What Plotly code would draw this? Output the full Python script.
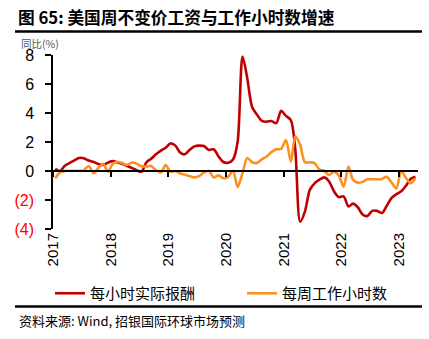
import pandas as pd
import plotly.graph_objects as go

# Monthly series, Jan 2017 - Apr 2023 (YoY, %), plotted at mid-month
months = pd.date_range("2017-01-01", periods=76, freq="MS") + pd.Timedelta(days=14)

real_hourly_comp = [
    0.15, 0.00, 0.35, 0.55, 0.72, 0.90, 0.88, 0.72, 0.62, 0.48, 0.42, 0.58,
    0.68, 0.58, 0.50, 0.35, 0.22, 0.05, -0.05, 0.60, 0.85, 1.15, 1.40, 1.60,
    1.90, 1.75, 1.30, 1.15, 1.45, 1.70, 1.75, 1.72, 1.45, 1.50, 1.00, 0.62,
    0.57, 0.80, 2.00, 7.90, 6.40, 4.40, 3.90, 3.45, 3.40, 3.45, 3.30, 4.15,
    3.80, 3.50, 1.50, -3.50, -2.80, -1.30, -0.85, -0.60, -0.44, -0.72, -1.40, -1.80,
    -1.75, -2.45, -2.25, -2.50, -3.00, -3.10, -2.75, -2.75, -2.90, -2.40, -1.85, -1.60,
    -1.40, -1.00, -0.55, -0.40,
]

weekly_hours = [
    -0.50, -0.10, 0.00, 0.02, 0.02, 0.02, 0.05, 0.34, -0.15, 0.20, 0.50, -0.05,
    0.50, 0.62, 0.55, 0.42, 0.58, 0.50, 0.33, 0.30, 0.35, 0.05, -0.10, 0.41,
    -0.05, 0.00, -0.15, -0.25, -0.35, -0.44, -0.35, -0.10, 0.02, -0.44, -0.30, -0.50,
    -0.40, 0.02, -1.10, -0.15, 0.90, 0.60, 0.55, 0.80, 1.00, 1.30, 1.50, 1.52,
    2.14, 0.65, 2.40, 1.80, 0.60, 0.60, 0.55, 0.10, 0.00, -0.28, -0.05, -0.30,
    -1.08, 0.30, -0.60, -0.80, -0.75, -0.57, -0.57, -0.57, -0.55, -0.40, -0.80, -1.20,
    0.00, -0.50, -0.85, -0.50,
]

series_names = ["每小时实际报酬", "每周工作小时数"]
series_colors = ["#C00000", "#FF8F1F"]

year_ticks = [f"{y}-01-01" for y in range(2017, 2024)]
year_labels = [str(y) for y in range(2017, 2024)]

y_ticks = [-4, -2, 0, 2, 4, 6, 8]
y_labels = ['<span style="color:#FF0000">(4)</span>',
            '<span style="color:#FF0000">(2)</span>',
            "0", "2", "4", "6", "8"]

W, H = 429, 339
ML, MR, MT, MB = 53, 11, 55, 110
Y_MIN, Y_MAX = -4, 8


def px(x):
    return (x - ML) / (W - ML - MR)


def py(y):
    return (H - MB - y) / (H - MT - MB)


fig = go.Figure()
fig.add_trace(go.Scatter(
    x=months, y=real_hourly_comp, name=series_names[0], mode="lines",
    line=dict(color=series_colors[0], width=2.6, shape="spline", smoothing=0.8),
    legend="legend",
))
fig.add_trace(go.Scatter(
    x=months, y=weekly_hours, name=series_names[1], mode="lines",
    line=dict(color=series_colors[1], width=2.6, shape="spline", smoothing=0.8),
    legend="legend2",
))

x_range = ["2017-01-01", "2023-05-01"]
zero_pos = (0 - Y_MIN) / (Y_MAX - Y_MIN)

legend_style = dict(
    orientation="h", yanchor="top", xanchor="left", y=py(277),
    font=dict(family="Noto Sans CJK SC", size=15, color="black"),
    itemwidth=30, bgcolor="rgba(0,0,0,0)",
)

fig.update_layout(
    width=W, height=H,
    margin=dict(l=ML, r=MR, t=MT, b=MB, autoexpand=False),
    paper_bgcolor="white", plot_bgcolor="white",
    font=dict(family="Liberation Sans, Arial, sans-serif", color="black"),
    xaxis=dict(
        range=x_range, tickvals=year_ticks, ticktext=year_labels,
        tickangle=-90, ticks="", showgrid=False, showline=False, zeroline=False,
        tickfont=dict(size=15, color="black"),
    ),
    xaxis2=dict(
        range=x_range, overlaying="x", anchor="free", position=zero_pos,
        tickvals=year_ticks, showticklabels=False, ticks="outside",
        ticklen=5, tickwidth=1.5, tickcolor="black",
        showline=True, linecolor="black", linewidth=1.5,
        showgrid=False, zeroline=False,
    ),
    yaxis=dict(
        range=[Y_MIN, Y_MAX], tickvals=y_ticks, ticktext=y_labels,
        ticks="outside", ticklen=6, tickwidth=1.5, tickcolor="black",
        showline=True, linecolor="black", linewidth=1.5,
        showgrid=False, zeroline=False, ticklabelstandoff=8,
        tickfont=dict(size=16, color="black"),
    ),
    showlegend=True,
    legend=dict(legend_style, x=px(50)),
    legend2=dict(legend_style, x=px(242)),
)

# invisible trace so the zero-line axis is drawn
fig.add_trace(go.Scatter(x=[months[0]], y=[0], xaxis="x2", mode="markers",
                         marker=dict(opacity=0), showlegend=False, hoverinfo="skip"))

fig.add_annotation(
    text="<b>图 65: 美国周不变价工资与工作小时数增速</b>",
    xref="paper", yref="paper", x=px(16), y=py(16.5), xanchor="left", yanchor="middle",
    showarrow=False, font=dict(family="Noto Sans CJK SC", size=16.7, color="black"),
)
fig.add_annotation(
    text="同比(%)",
    xref="paper", yref="paper", x=px(19), y=py(43), xanchor="left", yanchor="middle",
    showarrow=False, font=dict(family="Noto Sans CJK SC", size=10.5, color="#555555"),
)
fig.add_annotation(
    text="资料来源: Wind, 招银国际环球市场预测",
    xref="paper", yref="paper", x=px(17), y=py(320), xanchor="left", yanchor="middle",
    showarrow=False, font=dict(family="Noto Sans CJK SC", size=13, color="black"),
)

for ypix in (31.5, 306.5):
    fig.add_shape(type="line", xref="paper", yref="paper",
                  x0=px(15), x1=px(422), y0=py(ypix), y1=py(ypix),
                  line=dict(color="black", width=2.5))

fig.write_html("out.html")
